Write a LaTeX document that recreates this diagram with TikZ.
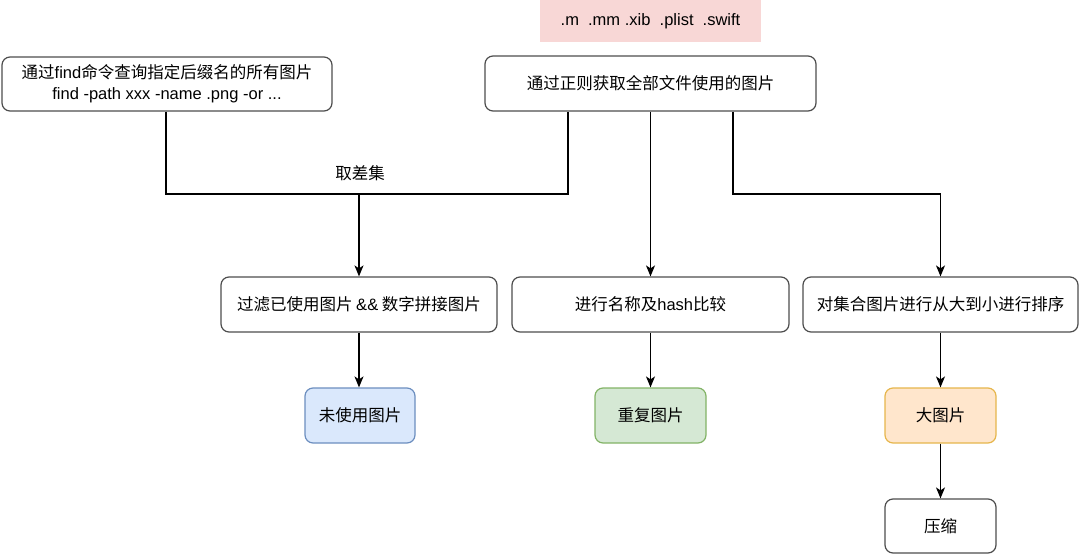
\documentclass[tikz,border=0pt]{standalone}
\usepackage{fontspec}
\setmainfont{Noto Sans CJK SC}
\newfontfamily\lat{Liberation Sans}
\usetikzlibrary{arrows.meta}
\definecolor{boxline}{HTML}{4D4D4D}
\definecolor{pinkfill}{HTML}{F8D7D6}
\definecolor{bluefill}{HTML}{DAE8FC}
\definecolor{blueline}{HTML}{6C8EBF}
\definecolor{greenfill}{HTML}{D5E8D4}
\definecolor{greenline}{HTML}{82B366}
\definecolor{orangefill}{HTML}{FFE6CC}
\definecolor{orangeline}{HTML}{E6B64C}
\tikzset{
  box/.style={draw=boxline, line width=1.2pt, rounded corners=8pt, fill=white,
    inner sep=0pt, align=center, font=\fontsize{16.5}{21}\selectfont},
  conn/.style={line width=1.4pt, black},
  arr/.style={conn, -{Stealth[length=11pt,width=9pt,inset=3pt]}},
}
\begin{document}
\begin{tikzpicture}[x=1pt,y=-1pt]
\useasboundingbox (0,0) rectangle (1080,555);
\node[box, minimum width=330pt, minimum height=54pt] (A) at (167,84)
  {通过{\lat find}命令查询指定后缀名的所有图片\\{\lat find -path xxx -name .png -or ...}};
\node[fill=pinkfill, inner sep=0pt, minimum width=221pt, minimum height=42pt,
  font=\lat\fontsize{16.5}{21}\selectfont] (P) at (650.5,21) {.m\ \ .mm .xib\ \ .plist\ \ .swift};
\node[box, minimum width=331pt, minimum height=55pt] (B) at (650.5,83.5) {通过正则获取全部文件使用的图片};
\node[box, minimum width=276pt, minimum height=55pt] (C) at (359,304.5) {过滤已使用图片 {\lat\&\&} 数字拼接图片};
\node[box, minimum width=277pt, minimum height=55pt] (D) at (650.5,304.5) {进行名称及{\lat hash}比较};
\node[box, minimum width=275pt, minimum height=55pt] (E) at (940.5,304.5) {对集合图片进行从大到小进行排序};
\node[box, draw=blueline, fill=bluefill, minimum width=110pt, minimum height=55pt] (F) at (360,415.5) {未使用图片};
\node[box, draw=greenline, fill=greenfill, minimum width=111pt, minimum height=55pt] (G) at (650.5,415.5) {重复图片};
\node[box, draw=orangeline, fill=orangefill, minimum width=111pt, minimum height=55pt] (H) at (940.5,415.5) {大图片};
\node[box, minimum width=111pt, minimum height=54pt] (I) at (940.5,526) {压缩};
\coordinate (jA) at (166,194);
\coordinate (jB) at (568,194);
\coordinate (jm) at (359,194);
\coordinate (jE) at (733,194);
\draw[conn] (A.south -| jA) -- (jA) -- (jB) -- (B.south -| jB);
\draw[arr] (jm) -- (C.north);
\node[font=\fontsize{16.5}{21}\selectfont, inner sep=0pt] (L) at (360,173) {取差集};
\draw[arr] (B.south) -- (D.north);
\draw[arr] (B.south -| jE) -- (jE) -| (E.north);
\draw[arr] (C.south) -- (C.south |- F.north);
\draw[arr] (D.south) -- (G.north);
\draw[arr] (E.south) -- (H.north);
\draw[arr] (H.south) -- (I.north);
\end{tikzpicture}
\end{document}
